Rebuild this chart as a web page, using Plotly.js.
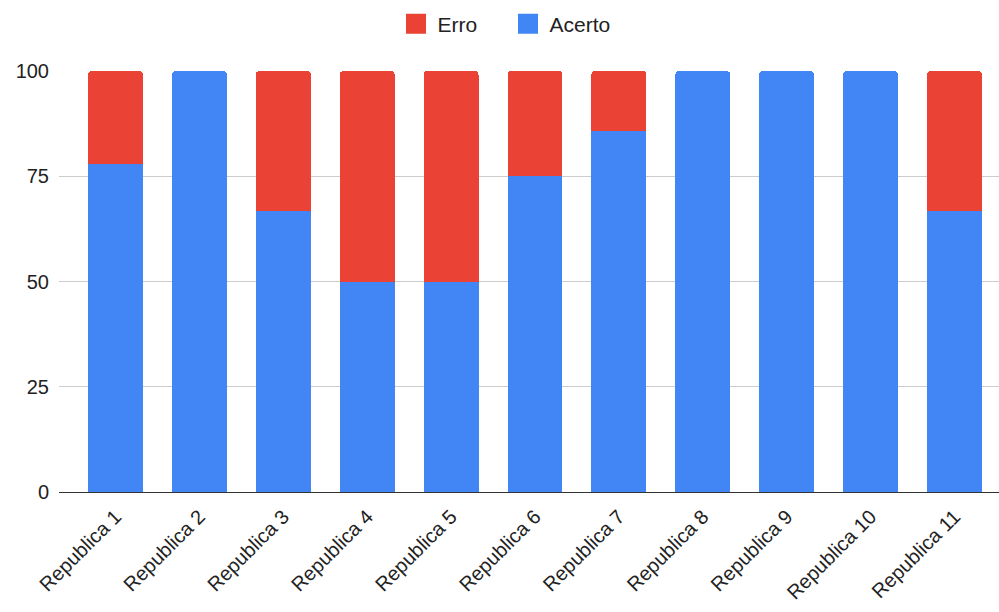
<!DOCTYPE html>
<html>
<head>
<meta charset="utf-8">
<script src="https://cdn.plot.ly/plotly-3.0.1.min.js"></script>
<style>html,body{margin:0;padding:0;background:#fff;}#chart{width:999px;height:612px;}</style>
</head>
<body>
<div id="chart"></div>
<script>
const categories = ["Republica 1","Republica 2","Republica 3","Republica 4","Republica 5","Republica 6","Republica 7","Republica 8","Republica 9","Republica 10","Republica 11"];
const acerto = [77.8, 100, 66.7, 50, 50, 75, 85.7, 100, 100, 100, 66.7];
const erro = [22.2, 0, 33.3, 50, 50, 25, 14.3, 0, 0, 0, 33.3];
const yTicks = [0, 25, 50, 75, 100];
const seriesNames = ["Acerto", "Erro"];
const seriesColors = ["#4285F4", "#EA4335"];

const traces = [
  {type:'bar', name:seriesNames[0], x:categories, y:acerto, marker:{color:seriesColors[0]}, width:0.655, showlegend:false, legendgroup:'a'},
  {type:'bar', name:seriesNames[1], x:categories, y:erro, marker:{color:seriesColors[1]}, width:0.655, showlegend:false, legendgroup:'e'},
  // legend-only entries (larger square symbols)
  {type:'scatter', mode:'markers', name:seriesNames[0], x:[null], y:[null], legendgroup:'a', marker:{symbol:'square', size:16, color:seriesColors[0], line:{color:seriesColors[0], width:4}}},
  {type:'scatter', mode:'markers', name:seriesNames[1], x:[null], y:[null], legendgroup:'e', marker:{symbol:'square', size:16, color:seriesColors[1], line:{color:seriesColors[1], width:4}}}
];

const layout = {
  width:999, height:612,
  margin:{l:59, r:0, t:71, b:120},
  barmode:'stack',
  barcornerradius:4,
  paper_bgcolor:'#fff', plot_bgcolor:'#fff',
  font:{family:'Liberation Sans, Arial, sans-serif', size:20, color:'#222'},
  showlegend:true,
  legend:{orientation:'h', traceorder:'reversed', x:0.507, xanchor:'center', xref:'container', y:1-24/612, yref:'container', yanchor:'middle', font:{size:21, color:'#222'}, itemwidth:33, entrywidth:64, entrywidthmode:'pixels'},
  xaxis:{range:[-0.673, 10.53], tickangle:-45, showgrid:false, showline:true, linecolor:'#333', linewidth:1, ticks:'', ticklabelstandoff:4, tickfont:{size:20, color:'#222'}, fixedrange:true},
  yaxis:{range:[0,100], tickvals:yTicks, ticktext:yTicks.map(String), showgrid:true, gridcolor:'#cccccc', zeroline:false, showline:false, ticks:'', ticklabelstandoff:9, tickfont:{size:20, color:'#222'}, fixedrange:true}
};

Plotly.newPlot('chart', traces, layout, {displayModeBar:false, staticPlot:true});
</script>
</body>
</html>
